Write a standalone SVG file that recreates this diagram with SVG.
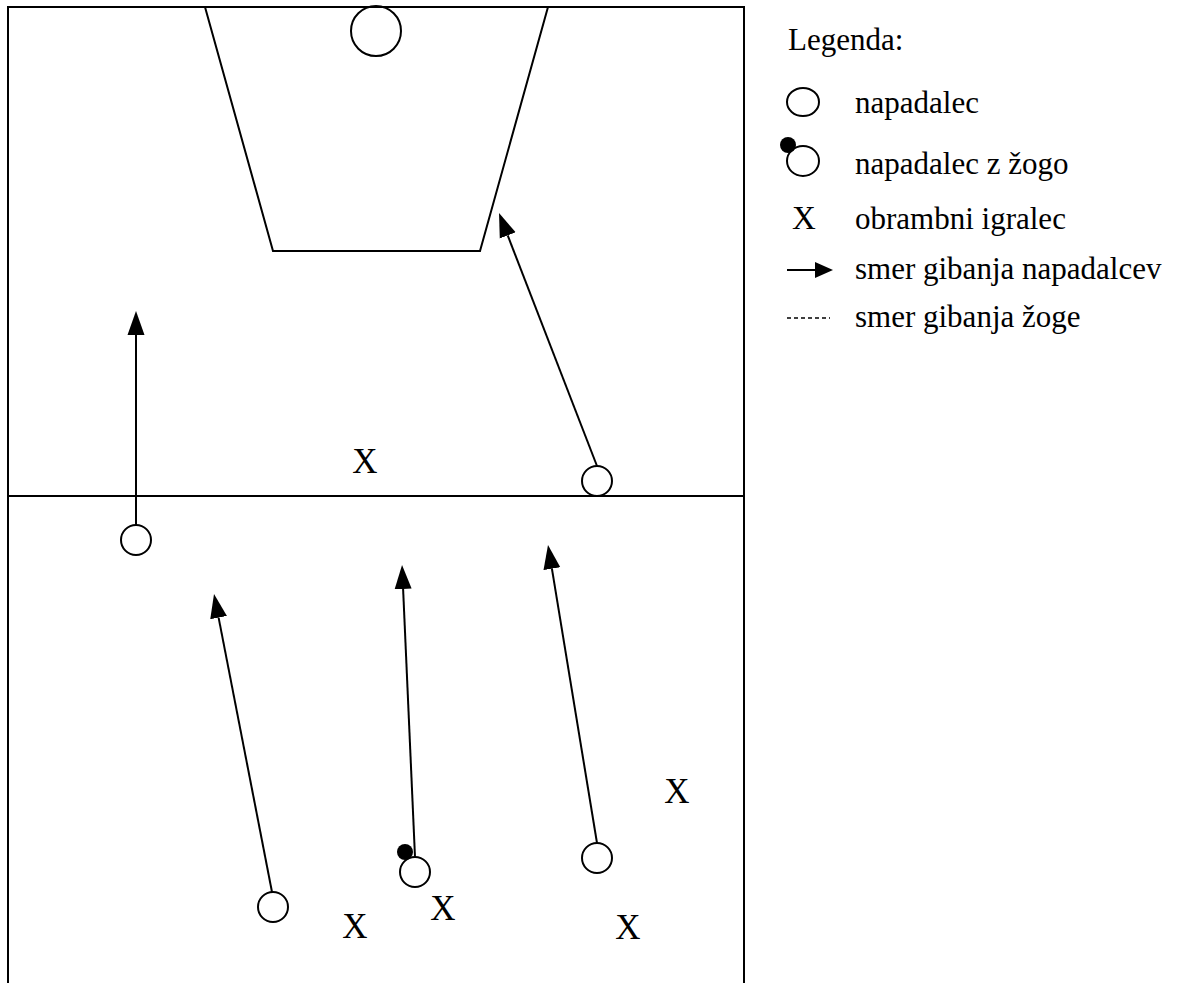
<svg xmlns="http://www.w3.org/2000/svg" width="1178" height="983" viewBox="0 0 1178 983">
<style>
.ln{stroke:#000;stroke-width:2;fill:none}
.pl{stroke:#000;stroke-width:2;fill:#fff}
.tx{font-family:"Liberation Serif","Times New Roman",serif;fill:#000}
.x{font-size:35px;text-anchor:middle}
.lg{font-size:31px}
</style>
<defs>
<marker id="ah" markerUnits="userSpaceOnUse" markerWidth="30" markerHeight="20" refX="0" refY="9" orient="auto" viewBox="0 0 30 20">
<path d="M0,0.5 L24,9 L0,17.5 z" fill="#000"/>
</marker>
<marker id="ahs" markerUnits="userSpaceOnUse" markerWidth="20" markerHeight="18" refX="0" refY="8" orient="auto" viewBox="0 0 20 18">
<path d="M0,0 L18,8 L0,16 z" fill="#000"/>
</marker>
</defs>
<rect width="1178" height="983" fill="#fff"/>
<g id="court">
<path class="ln" d="M8,983 L8,7 L744,7 L744,983"/>
<line class="ln" x1="8" y1="496" x2="744" y2="496"/>
<path class="ln" d="M205,7 L273,251 L480,251 L548,7"/>
<circle class="ln" cx="376" cy="31" r="25"/>
</g>
<g id="connectors">
<line class="ln" x1="136" y1="525" x2="136" y2="335" marker-end="url(#ah)"/>
<line class="ln" x1="597" y1="466" x2="507.7" y2="235.4" marker-end="url(#ah)"/>
<line class="ln" x1="272" y1="892" x2="218.6" y2="617.6" marker-end="url(#ah)"/>
<line class="ln" x1="415" y1="857" x2="403.1" y2="589" marker-end="url(#ah)"/>
<line class="ln" x1="597" y1="843" x2="551.9" y2="568.7" marker-end="url(#ah)"/>
</g>
<g id="attacker1"><circle class="pl" cx="136" cy="540" r="15"/></g>
<g id="attacker2"><circle class="pl" cx="597" cy="481" r="15"/></g>
<g id="attacker3"><circle class="pl" cx="273" cy="907" r="15"/></g>
<g id="attacker4"><circle class="pl" cx="415" cy="872" r="15"/><circle cx="405" cy="852" r="8" fill="#000"/></g>
<g id="attacker5"><circle class="pl" cx="597" cy="858" r="15"/></g>
<g id="defender1"><text class="tx x" x="365" y="473">X</text></g>
<g id="defender2"><text class="tx x" x="677" y="803">X</text></g>
<g id="defender3"><text class="tx x" x="355" y="938">X</text></g>
<g id="defender4"><text class="tx x" x="443" y="920">X</text></g>
<g id="defender5"><text class="tx x" x="628" y="939">X</text></g>
<g id="legend">
<text class="tx lg" x="788" y="50">Legenda:</text>
<ellipse class="pl" cx="803" cy="102" rx="16" ry="14"/>
<text class="tx lg" x="855" y="113">napadalec</text>
<ellipse class="pl" cx="803" cy="161" rx="16" ry="15"/>
<circle cx="788" cy="145" r="8" fill="#000"/>
<text class="tx lg" x="855" y="174">napadalec z žogo</text>
<text class="tx" x="804" y="229" font-size="33" text-anchor="middle">X</text>
<text class="tx lg" x="855" y="229">obrambni igralec</text>
<line class="ln" x1="787" y1="270" x2="815" y2="270" marker-end="url(#ahs)"/>
<text class="tx lg" x="855" y="279">smer gibanja napadalcev</text>
<line x1="787" y1="318" x2="830" y2="318" stroke="#000" stroke-width="1.5" stroke-dasharray="4,3"/>
<text class="tx lg" x="855" y="327">smer gibanja žoge</text>
</g>
</svg>
